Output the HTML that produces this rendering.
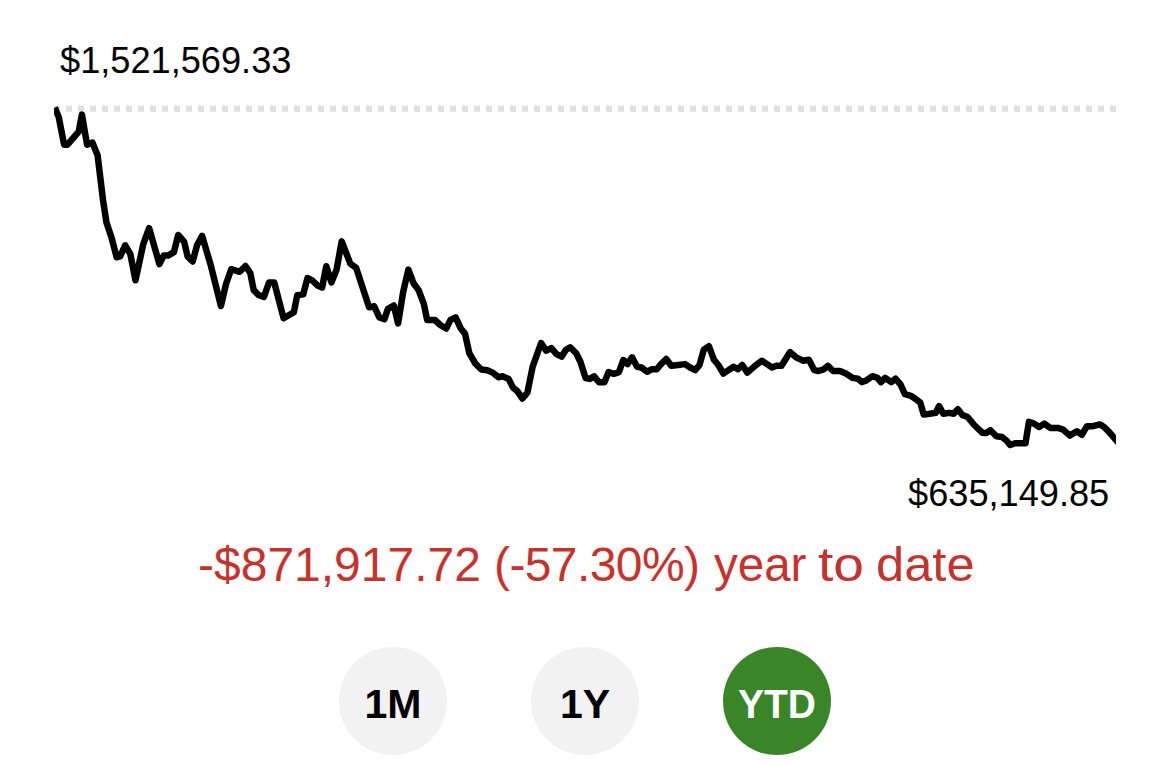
<!DOCTYPE html>
<html><head><meta charset="utf-8">
<style>
html,body{margin:0;padding:0;background:#fff;}
body{width:1170px;height:765px;position:relative;overflow:hidden;font-family:"Liberation Sans",sans-serif;}
.lbl{position:absolute;color:#000;font-size:36.2px;line-height:1;white-space:nowrap;}
#top{left:60px;top:43.4px;}
#bot{left:908px;top:476px;}
#chg span{position:absolute;top:0;}
#s1{left:198px;}
#s2{left:494px;letter-spacing:-0.6px;}
#s3{left:714px;transform:scaleX(0.99);transform-origin:0 0;}
#s4{left:818px;transform:scaleX(1.15);transform-origin:0 0;}
#s5{left:876px;transform:scaleX(1.055);transform-origin:0 0;}
#chg{position:absolute;left:0;width:1170px;top:541px;color:#c8322c;font-size:48px;line-height:1;white-space:nowrap;}
.btn{position:absolute;top:646.5px;width:108px;height:108px;border-radius:50%;background:#f2f2f2;color:#000;font-weight:bold;font-size:41px;line-height:114px;text-align:center;}
#b1{left:339px;}
#b2{left:531px;}
#b3{left:723px;background:#398528;color:#fff;}
svg{position:absolute;left:0;top:0;}
</style></head><body>
<svg width="1170" height="765" viewBox="0 0 1170 765"><defs><clipPath id="c"><rect x="54" y="0" width="1062" height="765"/></clipPath></defs>
<line x1="54" y1="108.7" x2="1116" y2="108.7" stroke="#e0e0e0" stroke-width="6" stroke-dasharray="6 6"/>
<polyline clip-path="url(#c)" fill="none" stroke="#000" stroke-width="6.5" stroke-linejoin="round" stroke-linecap="butt" points="54.7,107.6 58.8,117.3 64.1,144.7 67.5,144.7 78.7,131.6 81.9,114.6 87.1,144.7 92.4,142.6 97.6,155.2 103,200 106.4,222.2 111.5,237.6 116.7,257.3 120.1,256.4 125.2,245.3 130.3,253.8 135.5,280.3 143.2,244.4 149.1,228.2 159.4,264.1 163.7,255.6 168,255.6 173.9,252.1 178.2,235 184.2,241.9 187.6,256.4 192.7,261.5 197,245.3 202.1,235.9 210.7,265 220.9,306 226.1,283.8 231.2,269.2 239.7,271.8 245.5,266 250.3,273 253.7,290.1 258.8,295.2 263.9,296.9 269.1,282.4 274.2,282.4 283.6,318.3 293.8,312.3 297.3,295.2 303.2,294.4 307.5,278.1 312.6,280.7 317.8,285.8 322.1,287.5 326.3,266.2 331.5,282.4 336.6,269.6 341.7,241.4 350.3,263.6 356.2,267.9 369.1,307.2 374.2,306.3 379.3,317.4 384.4,319.1 387.9,308.9 393.8,305.5 398.1,323.4 403.2,291.8 408.4,269.6 413.5,283.2 418.6,290.1 423.8,303.8 427.2,320 434.9,320 440.3,325 446.2,328.5 450.5,319.9 455.6,317.4 460.8,328.5 465,333.6 469.3,353.2 475.3,363.5 481.3,369.5 487.3,370.3 493.2,372.9 498.4,377.2 502.6,376.3 508.6,378.9 512.9,387.4 517.2,390.9 522.3,398.5 527.4,392.6 532.6,366.9 541.1,343 546.2,350.7 551.4,348.1 556.5,354.1 561.6,356.7 565.9,349.8 570.2,347.3 576.2,353.2 580.4,361.8 585.6,378 589.8,378.9 594.1,376.3 599.2,382.3 604.4,382.3 608.6,372.1 613.8,373.8 618.9,372.1 623.3,360 627.6,364 632,357.3 637.1,366.7 641.4,367.5 647.4,371.8 651.6,369.2 656.8,369.2 661,364.1 666.2,359 671.3,365.8 678.1,365 685,364.1 690.1,367.5 695.2,370.1 699.5,365 703.8,349.6 708.9,346.2 714,359.8 718.3,365 723.4,373.5 728.5,370.1 733.7,366.7 737.9,369.2 742.2,365 747.4,372.6 755,365.8 761.9,360.7 767,364.1 772.1,367.5 776.4,365.8 781.5,365.8 790.1,352.1 796.1,357.3 802.9,360.7 808.9,359.8 814.2,370.1 818.5,371 823.7,369.3 827.9,365.9 833.1,371 839.9,371 845.9,373.6 852.7,377.9 857.9,378.7 862.1,382.1 866.4,380.4 872.4,376.2 877.5,377.9 880.9,382.1 885.2,377.9 891.2,382.1 895.5,378.7 900.6,384.7 904.9,394.1 910.9,395.8 916,399.2 920.3,402.6 923.7,414.6 929.7,413.8 935.6,412.9 939.1,406.1 943.3,413.8 949.3,412.9 953.6,413.8 957.9,409.3 962.6,415.2 967.4,416.8 974.2,425 982.2,432.7 986.2,433 990.4,430.2 996.4,436.2 1002,437 1006.7,440.7 1010.1,445 1015.2,443.2 1025.5,443.2 1028.9,421.9 1034,423.6 1039.1,427 1044.3,423.6 1050.3,427.9 1057.9,427.9 1063.1,429.6 1069.9,435.6 1076.8,431.3 1081.9,434.7 1087,426.2 1093,426.2 1099.8,424.4 1104.1,427 1109.2,432.1 1119,443.4"/>
</svg>
<div class="lbl" id="top">$1,521,569.33</div>
<div class="lbl" id="bot">$635,149.85</div>
<div id="chg"><span id="s1">-$871,917.72</span><span id="s2">(-57.30%)</span><span id="s3">year</span><span id="s4">to</span><span id="s5">date</span></div>
<div class="btn" id="b1">1M</div>
<div class="btn" id="b2">1Y</div>
<div class="btn" id="b3"><span style="display:inline-block;transform:scaleX(0.95)">YTD</span></div>
</body></html>
